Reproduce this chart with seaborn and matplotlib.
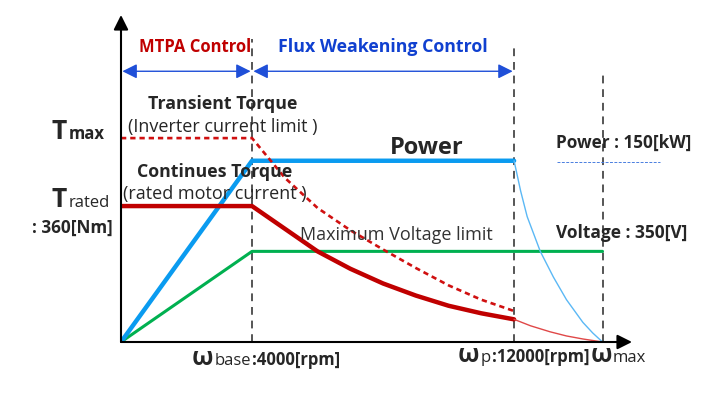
import matplotlib
matplotlib.use("Agg")
import matplotlib.pyplot as plt
from matplotlib.transforms import IdentityTransform
import seaborn as sns

# speed [rpm] and torque [Nm]
base_rpm, peak_rpm, max_rpm = 4000, 12000, 14700
fw_rpm = [0, 4000, 5000, 6000, 7000, 8000, 9000, 10000, 11000, 12000]
cont_torque = [360, 360, 300, 240, 194, 155, 123, 96, 76, 60]
trans_torque = [540, 540, 435, 355, 296, 245, 196, 150, 112, 82]
hs_rpm = [12000, 12500, 13100, 13600, 14100, 14700]
cont_torque_hs = [60, 43, 27, 16, 8, 0]
power_rpm = [0, 4000, 12000]
power_line = [0, 480, 480]
power_hs_rpm = [12000, 12200, 12400, 12800, 13200, 13600, 14100, 14400, 14700]
power_hs = [480, 400, 332, 240, 172, 112, 52, 24, 0]
volt_rpm = [0, 4000, 14700]
volt_line = [0, 240, 240]
guide_rpm = [4000, 12000, 14700]
guide_top = [802, 778, 707]

sns.set_style("white")
plt.rcParams["font.family"] = ["Open Sans", "DejaVu Sans"]

W, H = 724, 394
fig = plt.figure(figsize=(W / 100, H / 100), dpi=100)
ax = fig.add_axes([121 / W, (H - 342) / H, 511 / W, 327 / H])
ax.set_xlim(0, 15600)
ax.set_ylim(0, 866)
ax.set_xticks([])
ax.set_yticks([])
for s in ax.spines.values():
    s.set_visible(False)

# axes with arrow heads
ax.annotate("", xy=(1, 0), xytext=(0, 0), xycoords="axes fraction",
            arrowprops=dict(arrowstyle="-|>", color="black", lw=1.5,
                            mutation_scale=22, shrinkA=0, shrinkB=0))
ax.annotate("", xy=(0, 1), xytext=(0, 0), xycoords="axes fraction",
            arrowprops=dict(arrowstyle="-|>", color="black", lw=1.5,
                            mutation_scale=22, shrinkA=0, shrinkB=0))

# guide lines
for r, top in zip(guide_rpm, guide_top):
    ax.plot([r, r], [0, top], color="#555555", lw=1.4,
            linestyle=(0, (4, 3)), zorder=1)

# curves
sns.lineplot(x=volt_rpm, y=volt_line, color="#00B050", lw=2.2, ax=ax,
             sort=False, estimator=None)
sns.lineplot(x=power_rpm, y=power_line, color="#0A9BF0", lw=3.2, ax=ax,
             sort=False, estimator=None)
sns.lineplot(x=power_hs_rpm, y=power_hs, color="#5BB8F5", lw=1.0, ax=ax,
             sort=False, estimator=None)
sns.lineplot(x=fw_rpm, y=trans_torque, color="#D01010", lw=1.9, ax=ax,
             sort=False, estimator=None, linestyle=(0, (2, 1.5)))
sns.lineplot(x=fw_rpm, y=cont_torque, color="#C00000", lw=3.2, ax=ax,
             sort=False, estimator=None)
sns.lineplot(x=hs_rpm, y=cont_torque_hs, color="#E04848", lw=1.0, ax=ax,
             sort=False, estimator=None)

# region arrows
arrow_y = 717
for a, b in [(0, base_rpm), (base_rpm, peak_rpm)]:
    ax.annotate("", xy=(b, arrow_y), xytext=(a, arrow_y),
                arrowprops=dict(arrowstyle="<|-|>", color="#1F4FD8", lw=1.0,
                                mutation_scale=22, shrinkA=1, shrinkB=1))
ax.text(2260, 781, "MTPA Control", color="#C00000", fontsize=12,
        fontweight="bold", ha="center", va="center")
ax.text(8000, 781, "Flux Weakening Control", color="#1040D0", fontsize=12.8,
        fontweight="bold", ha="center", va="center")

# annotations
ax.text(3115, 630, "Transient Torque", fontsize=12.8, fontweight="bold",
        ha="center", va="center")
ax.text(3115, 569, "(Inverter current limit )", fontsize=13,
        ha="center", va="center")
ax.text(2870, 450, "Continues Torque", fontsize=12.8, fontweight="bold",
        ha="center", va="center")
ax.text(2870, 392, "(rated motor current )", fontsize=13,
        ha="center", va="center")
ax.text(9340, 513, "Power", fontsize=17, fontweight="bold",
        ha="center", va="center")
ax.text(8400, 283, "Maximum Voltage limit", fontsize=13, color="#333333",
        ha="center", va="center")
ax.text(13282, 527, "Power : 150[kW]", fontsize=12.3, fontweight="bold",
        ha="left", va="center")
ax.plot([13313, 16458], [476, 476], color="#4A7FE0", lw=0.7,
        linestyle=(0, (3, 1.5)), clip_on=False)
ax.text(13282, 288, "Voltage : 350[V]", fontsize=12.5, fontweight="bold",
        ha="left", va="center")

renderer = fig.canvas.get_renderer()


def rich(px, py, parts):
    # pieces of text written one after the other on a common baseline
    x = px
    for s, size, weight in parts:
        t = fig.text(x, H - py, s, transform=IdentityTransform(), fontsize=size,
                     fontweight=weight, ha="left", va="baseline")
        x = t.get_window_extent(renderer).x1 + 1


rich(52, 139, [("T", 19, "bold"), ("max", 12, "bold")])
rich(52, 207, [("T", 19, "bold"), ("rated", 12, "normal")])
rich(32, 233, [(": 360[Nm]", 12.3, "bold")])
rich(192, 365, [("ω", 18, "bold"), ("base", 12, "normal"),
                (":4000[rpm]", 12, "bold")])
rich(458, 362, [("ω", 18, "bold"), ("p", 12, "normal"),
                (":12000[rpm]", 12, "bold"), ("ω", 18, "bold"),
                ("max", 12, "normal")])

fig.savefig("out.png", dpi=100)
